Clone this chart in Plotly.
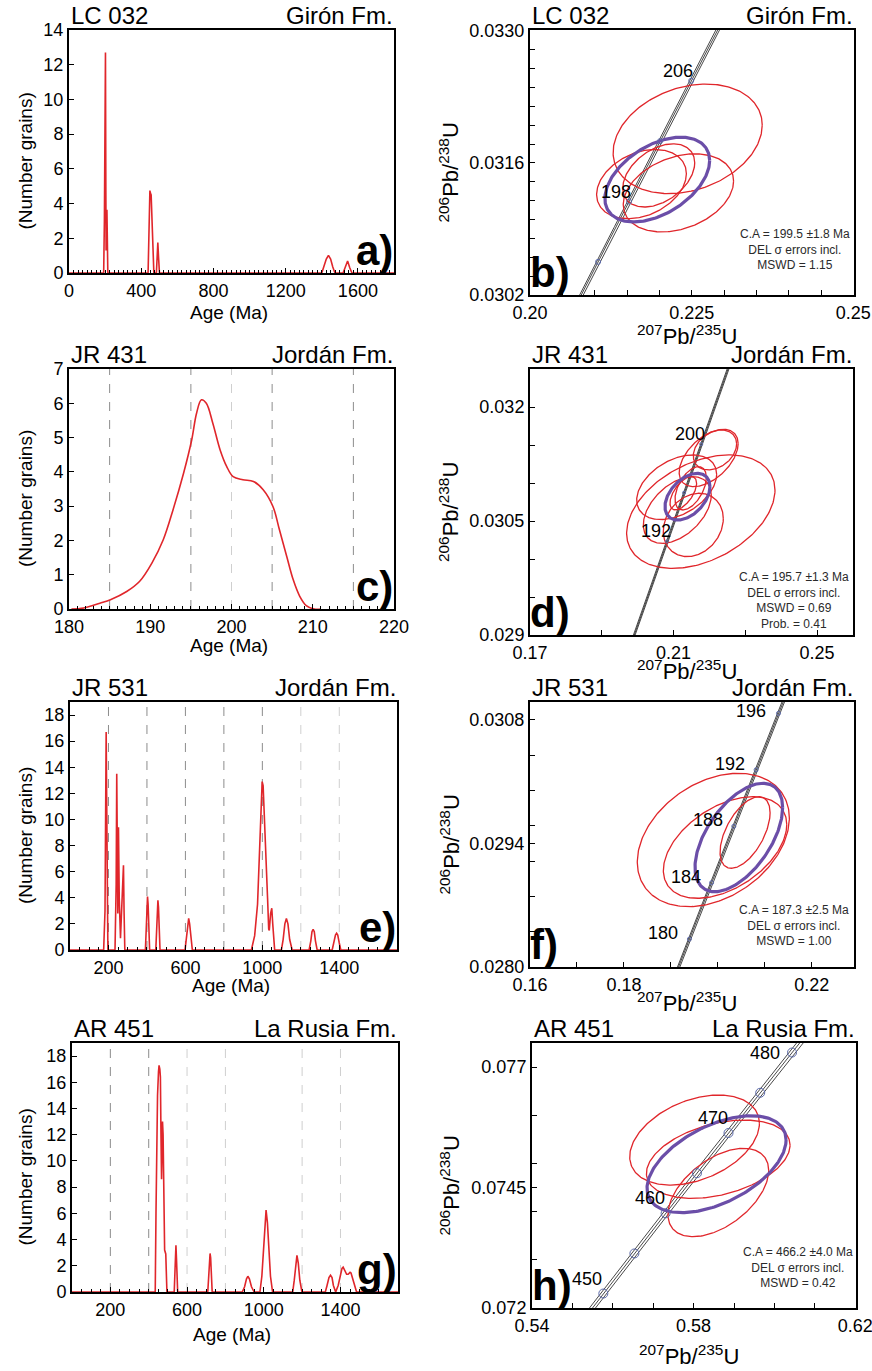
import numpy as np
import plotly.graph_objects as go

W, H = 872, 1371
FONT = "Liberation Sans, Arial, Helvetica, sans-serif"
RED = "#e0262b"
PURPLE = "#6b4ea8"
CONC = "#333333"
MARK = "#5a68a8"
GRID_DARK = "#8c8c8c"
GRID_LIGHT = "#cfcfcf"

# ---------------- PDP curves (age in Ma, number of grains)
age_a = [0, 192, 196, 199, 202, 204, 205.5, 208, 210, 212.5, 215,
         438, 442, 445, 448, 451, 455, 458, 462, 466, 470,
         484, 488, 492, 496, 501,
         1400, 1412, 1425, 1437, 1449, 1461, 1473,
         1518, 1530, 1543, 1555, 1567, 1800]
n_a = [0, 0, 3, 9, 12.7, 5, 1.3, 2.5, 3.65, 1.5, 0,
       0, 2.0, 4.2, 4.75, 4.6, 4.5, 3.6, 2.0, 0.6, 0,
       0, 0.9, 1.75, 0.9, 0,
       0, 0.35, 0.8, 1.02, 0.8, 0.35, 0,
       0, 0.3, 0.69, 0.3, 0, 0]

age_c = [180.3, 181.8, 183.8, 185.1, 187.1, 188.7, 190.2, 191.6, 192.8, 194.1,
         195.1, 195.7, 196.3, 196.9, 197.7, 198.6, 199.4, 200.2, 201.4, 202.7,
         203.9, 205.1, 205.9, 206.8, 207.6, 208.4, 209.2, 210.2, 211.0]
n_c = [0, 0.03, 0.17, 0.27, 0.51, 0.81, 1.34, 2.02, 2.89, 3.96,
       4.93, 5.71, 6.10, 6.0, 5.42, 4.64, 4.16, 3.86, 3.77, 3.72,
       3.48, 2.99, 2.31, 1.53, 0.85, 0.37, 0.10, 0, 0]

age_e = [0, 175, 182, 186, 188, 191, 194, 197,
         234, 240, 243, 246, 248.6, 252, 256, 262.5, 268, 271, 274, 278, 281, 285,
         392, 397, 400, 403, 406, 409, 414,
         446, 451, 454, 457, 460, 463, 468,
         598, 606, 612, 617, 622, 628, 636,
         943, 960, 975, 986, 995, 999, 1004, 1011, 1016, 1020, 1027, 1033, 1036, 1043, 1049, 1054, 1058, 1064,
         1099, 1108, 1117, 1125, 1133, 1142, 1155,
         1243, 1252, 1258, 1264, 1270, 1276, 1285,
         1363, 1372, 1380, 1386, 1392, 1399, 1408, 1700]
n_e = [0, 0, 3, 12, 16.7, 11, 3, 0,
       0, 5, 13.5, 6, 2.8, 9.4, 4, 0.9, 3, 4.7, 4.8, 6.5, 3, 0,
       0, 1.5, 3.5, 4.1, 3.5, 1.5, 0,
       0, 1.5, 3.3, 3.8, 3.3, 1.5, 0,
       0, 0.9, 2.0, 2.42, 2.0, 0.9, 0,
       0, 1.1, 3.5, 7.5, 11.6, 12.9, 12.6, 9.5, 7.7, 7.0, 4.0, 1.6, 1.5, 2.8, 3.2, 2.0, 0.8, 0,
       0, 0.8, 2.0, 2.42, 2.0, 0.8, 0,
       0, 0.7, 1.4, 1.58, 1.4, 0.7, 0,
       0, 0.6, 1.15, 1.28, 1.15, 0.6, 0, 0]

age_g = [0, 434, 438, 441, 446, 451, 454, 458, 461, 464, 467, 470, 472, 475, 477, 480, 483, 489, 492, 495,
         533, 537, 540, 542, 545, 548, 551,
         708, 713, 717, 720, 723, 727, 731,
         888, 900, 910, 917, 925, 936, 950,
         980, 990, 998, 1005, 1012, 1019, 1026, 1035, 1046,
         1151, 1159, 1166, 1173, 1180, 1188, 1199,
         1321, 1330, 1340, 1348, 1356, 1363, 1371,
         1375, 1388, 1400, 1408, 1414, 1422, 1432, 1440, 1450, 1455, 1465, 1475, 1484, 1700]
n_g = [0, 0, 6, 12.1, 15, 16.8, 17.3, 17.0, 16.4, 12, 8.6, 11, 13.0, 12, 10, 5, 3.2, 2.9, 1.2, 0,
       0, 1.6, 3.2, 3.57, 2.5, 0.8, 0,
       0, 1.3, 2.6, 2.94, 2.6, 1.3, 0,
       0, 0.4, 1.0, 1.2, 1.0, 0.4, 0,
       0, 1.2, 3.2, 5.3, 6.25, 5.3, 3.2, 1.2, 0,
       0, 0.9, 2.2, 2.8, 2.2, 0.9, 0,
       0, 0.5, 1.1, 1.28, 1.1, 0.5, 0,
       0, 0.5, 1.3, 1.8, 1.9, 1.7, 1.35, 1.35, 1.5, 1.45, 0.9, 0.3, 0, 0]

# dashed reference lines (ages)
grid_c_dark = [185, 195, 205, 215]
grid_c_light = [200]
grid_e_dark = [200, 400, 600, 800, 1000]
grid_e_light = [1200, 1400]
grid_g_dark = [200, 400]
grid_g_light = [600, 800, 1200, 1400]

# ---------------- Concordia
L238 = 1.55125e-4   # 1/Ma
L235 = 9.8485e-4    # 1/Ma
LAM_ERR = 0.0011    # relative decay-constant envelope

conc_b_ticks = [194, 198, 202, 206]
conc_b_labels = [198, 206]
conc_d_ticks = [192, 196, 200]
conc_d_labels = [192, 200]
conc_f_ticks = [180, 184, 188, 192, 196]
conc_f_labels = [180, 184, 188, 192, 196]
conc_h_ticks = [450, 455, 460, 465, 470, 475, 480]
conc_h_labels = [450, 460, 470, 480]

# ---------------- Error ellipses (207Pb/235U, 206Pb/238U, sigma x, sigma y, rho)
ell_b_x = [0.22438, 0.21724, 0.21991, 0.22295]
ell_b_y = [0.031856, 0.031376, 0.031468, 0.031283]
ell_b_sx = [0.01153, 0.00694, 0.00556, 0.00853]
ell_b_sy = [0.000581, 0.000367, 0.000335, 0.000414]
ell_b_rho = [0.25, 0.30, 0.40, 0.30]
mean_b = [0.21968, 0.031424, 0.00810, 0.000449, 0.45]

ell_d_x = [0.21759, 0.21978, 0.21087, 0.21477, 0.21550, 0.21104, 0.22154, 0.21271]
ell_d_y = [0.030623, 0.031329, 0.030944, 0.030930, 0.030448, 0.030645, 0.031435, 0.030865]
ell_d_sx = [0.02067, 0.00822, 0.01114, 0.00437, 0.00836, 0.00947, 0.00604, 0.00371]
ell_d_sy = [0.000746, 0.000377, 0.000425, 0.000285, 0.000417, 0.000439, 0.000263, 0.000219]
ell_d_rho = [0.38, 0.50, 0.40, 0.50, 0.20, 0.45, 0.30, 0.60]
mean_d = [0.21388, 0.030820, 0.00627, 0.000307, 0.43]

ell_f_x = [0.19904, 0.20154, 0.20580]
ell_f_y = [0.029438, 0.029353, 0.029523]
ell_f_sx = [0.01619, 0.01314, 0.00533]
ell_f_sy = [0.000755, 0.000575, 0.000405]
ell_f_rho = [0.33, 0.45, 0.55]
mean_f = [0.20447, 0.029466, 0.00933, 0.000614, 0.55]

ell_h_x = [0.58024, 0.58610, 0.58612]
ell_h_y = [0.075486, 0.075088, 0.074397]
ell_h_sx = [0.01605, 0.01778, 0.01247]
ell_h_sy = [0.000934, 0.000813, 0.000917]
ell_h_rho = [0.37, 0.36, 0.50]
mean_h = [0.58568, 0.074984, 0.01721, 0.001006, 0.50]

stats_b = ["C.A = 199.5 ±1.8 Ma", "DEL σ errors incl.", "MSWD = 1.15"]
stats_d = ["C.A = 195.7 ±1.3 Ma", "DEL σ errors incl.", "MSWD = 0.69", "Prob. = 0.41"]
stats_f = ["C.A = 187.3 ±2.5 Ma", "DEL σ errors incl.", "MSWD = 1.00"]
stats_h = ["C.A = 466.2 ±4.0 Ma", "DEL σ errors incl.", "MSWD = 0.42"]

samples = {"a": ("LC 032", "Girón Fm."), "b": ("LC 032", "Girón Fm."),
           "c": ("JR 431", "Jordán Fm."), "d": ("JR 431", "Jordán Fm."),
           "e": ("JR 531", "Jordán Fm."), "f": ("JR 531", "Jordán Fm."),
           "g": ("AR 451", "La Rusia Fm."), "h": ("AR 451", "La Rusia Fm.")}

# ---------------- layout geometry (pixels: left, top, right, bottom)
BOX = {"a": (69, 30, 394, 273), "b": (530, 30, 854, 295),
       "c": (69, 369, 394, 609), "d": (530, 369, 853, 635),
       "e": (70, 702, 397, 950), "f": (530, 702, 854, 967),
       "g": (72, 1043, 398, 1292), "h": (532, 1043, 856, 1308)}
IDX = {k: i + 1 for i, k in enumerate("abcdefgh")}


def px(x):
    return x / W


def py(y):
    return 1 - y / H


def axref(k):
    i = IDX[k]
    return ("x" if i == 1 else f"x{i}"), ("y" if i == 1 else f"y{i}")


def axkey(k):
    i = IDX[k]
    return ("xaxis" if i == 1 else f"xaxis{i}"), ("yaxis" if i == 1 else f"yaxis{i}")


fig = go.Figure()
layout = dict(width=W, height=H, autosize=False, margin=dict(l=0, r=0, t=0, b=0, pad=0),
              paper_bgcolor="white", plot_bgcolor="white", showlegend=False,
              font=dict(family=FONT, color="black", size=18))
annotations = []
shapes = []


def axis(domain, rng, tickvals, ticktext, minor_dtick, minor_tick0, ticklen=5, minor_len=3):
    d = dict(domain=domain, range=rng, showline=True, linecolor="black", linewidth=2,
             mirror=True, ticks="inside", ticklen=ticklen, tickwidth=1, tickcolor="black",
             showgrid=False, zeroline=False, tickmode="array", tickvals=tickvals,
             ticktext=ticktext, tickfont=dict(size=18, family=FONT, color="black"),
             layer="above traces", automargin=False, ticklabeloverflow="allow")
    if minor_dtick:
        d["minor"] = dict(ticks="inside", ticklen=minor_len, tickwidth=1, tickcolor="black",
                          dtick=minor_dtick, tick0=minor_tick0, showgrid=False)
    return d


def set_axes(k, xr, xtv, xtt, xminor, xminor0, yr, ytv, ytt, yminor=None, yminor0=None,
             xlen=5, xminlen=3, ylen=5, yminlen=3):
    l, t, r, b = BOX[k]
    xk, yk = axkey(k)
    xa, ya = axref(k)
    xd = axis([px(l), px(r)], xr, xtv, xtt, xminor, xminor0, xlen, xminlen)
    yd = axis([py(b), py(t)], yr, ytv, ytt, yminor, yminor0, ylen, yminlen)
    xd["anchor"] = ya
    yd["anchor"] = xa
    layout[xk] = xd
    layout[yk] = yd


def text_ann(text, x, y, xanchor, yanchor, size, color="black", angle=0, align="center"):
    annotations.append(dict(text=text, x=px(x), y=py(y), xref="paper", yref="paper",
                            showarrow=False, xanchor=xanchor, yanchor=yanchor,
                            textangle=angle, align=align,
                            font=dict(size=size, family=FONT, color=color)))


def panel_text(k, left_panel):
    l, t, r, b = BOX[k]
    s, fm = samples[k]
    text_ann(s, l, t + 1, "left", "bottom", 24)
    text_ann(fm, r + 1, t + 1, "right", "bottom", 24)
    letter = f"<b>{k})</b>"
    if left_panel:
        text_ann(letter, r + 1, b + 3, "right", "bottom", 42)
    else:
        text_ann(letter, l - 2, b + 3, "left", "bottom", 42)


def vlines(k, vals, color):
    xa, ya = axref(k)
    for v in vals:
        shapes.append(dict(type="line", xref=xa, yref=f"{ya} domain", x0=v, x1=v, y0=0, y1=1,
                           line=dict(color=color, width=1, dash="dash"), layer="below"))


# ---------------- PDP panels
pdp = [("a", age_a, n_a, "linear"), ("c", age_c, n_c, "spline"),
       ("e", age_e, n_e, "linear"), ("g", age_g, n_g, "linear")]
for k, ages, ns, shape in pdp:
    xa, ya = axref(k)
    fig.add_trace(go.Scatter(x=ages, y=ns, mode="lines", xaxis=xa, yaxis=ya,
                             line=dict(color=RED, width=1.6, shape=shape), hoverinfo="skip"))

set_axes("a", [0, 1800], [0, 400, 800, 1200, 1600], ["0", "400", "800", "1200", "1600"], 25, 0,
         [0, 14], list(range(0, 15, 2)), [str(v) for v in range(0, 15, 2)])
set_axes("c", [180, 220], [180, 190, 200, 210, 220], ["180", "190", "200", "210", "220"], 1, 180,
         [0, 7], list(range(0, 8)), [str(v) for v in range(0, 8)])
set_axes("e", [0, 1700], [200, 600, 1000, 1400], ["200", "600", "1000", "1400"], 50, 0,
         [0, 19], list(range(0, 19, 2)), [str(v) for v in range(0, 19, 2)])
set_axes("g", [0, 1700], [200, 600, 1000, 1400], ["200", "600", "1000", "1400"], 50, 0,
         [0, 19], list(range(0, 19, 2)), [str(v) for v in range(0, 19, 2)])

vlines("c", grid_c_dark, GRID_DARK)
vlines("c", grid_c_light, GRID_LIGHT)
vlines("e", grid_e_dark, GRID_DARK)
vlines("e", grid_e_light, GRID_LIGHT)
vlines("g", grid_g_dark, GRID_DARK)
vlines("g", grid_g_light, GRID_LIGHT)

age_title_y = {"a": 313, "c": 645, "e": 986, "g": 1334}
for k in "aceg":
    l, t, r, b = BOX[k]
    text_ann("Age (Ma)", (l + r) / 2 - 3, age_title_y[k], "center", "middle", 19)
    text_ann("(Number grains)", 25, (t + b) / 2 + 10, "center", "middle", 19, angle=-90)
    panel_text(k, True)

# ---------------- Concordia panels


def conc_xy(t, rel=0.0):
    t = np.asarray(t, dtype=float)
    return np.exp(L235 * (1 + rel) * t) - 1, np.exp(L238 * t) - 1


def ellipse(cx, cy, sx, sy, rho, n=240):
    th = np.linspace(0, 2 * np.pi, n)
    x = cx + sx * np.cos(th)
    y = cy + sy * (rho * np.cos(th) + np.sqrt(1 - rho ** 2) * np.sin(th))
    return x, y


conc_panels = {
    "b": dict(trange=(185, 215), ticks=conc_b_ticks, labels=conc_b_labels, msize=5,
              shift=(4, 10), special={}, ell=(ell_b_x, ell_b_y, ell_b_sx, ell_b_sy, ell_b_rho),
              mean=mean_b, stats=stats_b, stats_pos=(795, 249)),
    "d": dict(trange=(180, 212), ticks=conc_d_ticks, labels=conc_d_labels, msize=3,
              shift=(6, 10), special={}, ell=(ell_d_x, ell_d_y, ell_d_sx, ell_d_sy, ell_d_rho),
              mean=mean_d, stats=stats_d, stats_pos=(794, 600)),
    "f": dict(trange=(174, 202), ticks=conc_f_ticks, labels=conc_f_labels, msize=4,
              shift=(-9, 6), special={196: (-10, 2)},
              ell=(ell_f_x, ell_f_y, ell_f_sx, ell_f_sy, ell_f_rho),
              mean=mean_f, stats=stats_f, stats_pos=(794, 925)),
    "h": dict(trange=(440, 490), ticks=conc_h_ticks, labels=conc_h_labels, msize=9,
              shift=(1, 15), special={480: (-10, 0)},
              ell=(ell_h_x, ell_h_y, ell_h_sx, ell_h_sy, ell_h_rho),
              mean=mean_h, stats=stats_h, stats_pos=(798, 1267)),
}

for k, P in conc_panels.items():
    xa, ya = axref(k)
    tt = np.linspace(P["trange"][0], P["trange"][1], 400)
    for rel in (-LAM_ERR, 0.0, LAM_ERR):
        cx, cy = conc_xy(tt, rel)
        fig.add_trace(go.Scatter(x=cx, y=cy, mode="lines", xaxis=xa, yaxis=ya,
                                 line=dict(color=CONC, width=0.9), hoverinfo="skip"))
    ex, ey, esx, esy, erho = P["ell"]
    for i in range(len(ex)):
        x, y = ellipse(ex[i], ey[i], esx[i], esy[i], erho[i])
        fig.add_trace(go.Scatter(x=x, y=y, mode="lines", xaxis=xa, yaxis=ya,
                                 line=dict(color=RED, width=1.3), hoverinfo="skip"))
    m = P["mean"]
    x, y = ellipse(m[0], m[1], m[2], m[3], m[4])
    fig.add_trace(go.Scatter(x=x, y=y, mode="lines", xaxis=xa, yaxis=ya,
                             line=dict(color=PURPLE, width=3.2), hoverinfo="skip"))
    mx, my = conc_xy(P["ticks"])
    fig.add_trace(go.Scatter(x=mx, y=my, mode="markers", xaxis=xa, yaxis=ya,
                             marker=dict(symbol="circle-open", size=P["msize"], color=MARK,
                                         line=dict(width=1, color=MARK)), hoverinfo="skip"))
    lx, ly = conc_xy(P["labels"])
    for t_, x_, y_ in zip(P["labels"], lx, ly):
        dx, dy = P["special"].get(t_, P["shift"])
        annotations.append(dict(text=str(t_), x=x_, y=y_, xref=xa, yref=ya, showarrow=False,
                                xanchor="right", yanchor="middle", xshift=dx, yshift=dy,
                                font=dict(size=18, family=FONT, color="black")))
    sx_, sy_ = P["stats_pos"]
    text_ann("<br>".join(P["stats"]), sx_, sy_, "center", "middle", 12, color="#2a2a2a")

set_axes("b", [0.20, 0.2501], [0.20, 0.225, 0.25], ["0.20", "0.225", "0.25"], 0.005, 0.20,
         [0.0302, 0.03301], [0.0302, 0.0316, 0.0330], ["0.0302", "0.0316", "0.0330"], 0.0002, 0.0302,
         xminlen=5, yminlen=5)
set_axes("d", [0.17, 0.26], [0.17, 0.21, 0.25], ["0.17", "0.21", "0.25"], 0.02, 0.17,
         [0.029, 0.0325], [0.029, 0.0305, 0.032], ["0.029", "0.0305", "0.032"], 0.0005, 0.029,
         xminlen=5, yminlen=5)
set_axes("f", [0.16, 0.229], [0.16, 0.18, 0.22], ["0.16", "0.18", "0.22"], 0.01, 0.16,
         [0.028, 0.031], [0.028, 0.0294, 0.0308], ["0.0280", "0.0294", "0.0308"], 0.0004, 0.028,
         xminlen=5, yminlen=5)
set_axes("h", [0.54, 0.6202], [0.54, 0.58, 0.62], ["0.54", "0.58", "0.62"], 0.01, 0.54,
         [0.072, 0.0775], [0.072, 0.0745, 0.077], ["0.072", "0.0745", "0.077"], 0.001, 0.072,
         xminlen=5, yminlen=5)

ratio_title_bottom = {"b": 351, "d": 686, "f": 1018, "h": 1371}
for k in "bdfh":
    l, t, r, b = BOX[k]
    text_ann("<sup>207</sup>Pb/<sup>235</sup>U", (l + r) / 2 - 5, ratio_title_bottom[k], "center", "bottom", 22)
    text_ann("<sup>206</sup>Pb/<sup>238</sup>U", 449, (t + b) / 2 + 10, "center", "middle", 22, angle=-90)
    panel_text(k, False)

layout["annotations"] = annotations
layout["shapes"] = shapes
fig.update_layout(**layout)
fig.write_html("out.html", config={"displayModeBar": False},
               post_script="document.body.style.margin='0';document.body.style.overflow='hidden';")
